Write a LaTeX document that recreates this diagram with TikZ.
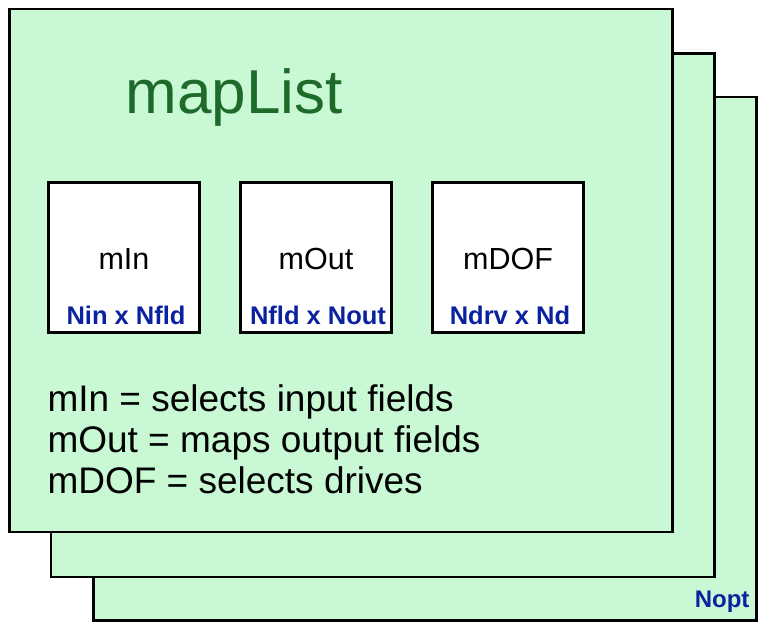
\documentclass[tikz,border=0pt]{standalone}
\usepackage{fontspec}
\setmainfont{Liberation Sans}
\definecolor{sheet}{HTML}{C8F9D4}
\definecolor{titlegreen}{HTML}{1D6A2A}
\definecolor{dimblue}{HTML}{0A22A0}
\begin{document}
\begin{tikzpicture}[x=1pt,y=-1pt,
  sheetframe/.style={draw=black,fill=sheet,line width=2.8pt},
  matbox/.style={draw=black,fill=white,line width=2.6pt,minimum width=151pt,minimum height=150pt,inner sep=0pt},
  boxname/.style={anchor=base,font=\fontsize{30.5}{34}\selectfont},
  dimlabel/.style={anchor=base,text=dimblue,font=\bfseries\fontsize{25.5}{28}\selectfont},
  bodytext/.style={anchor=base west,font=\fontsize{37}{41}\selectfont}]
\useasboundingbox (0,0) rectangle (758,622);
\draw[sheetframe] (93.5,97) rectangle (756.2,620.6);
\draw[sheetframe] (51,53.5) rectangle (714.5,577);
\draw[sheetframe] (9.5,9) rectangle (672.5,532);
\node[anchor=base,text=titlegreen,font=\fontsize{62}{70}\selectfont] (title) at (234,113) {mapList};
\node[matbox] (min) at (124,257.5) {};
\node[matbox] (mout) at (316,257.5) {};
\node[matbox] (mdof) at (508,257.5) {};
\node[boxname] (minname) at (124,269) {mIn};
\node[boxname] (moutname) at (316,269) {mOut};
\node[boxname] (mdofname) at (508,269) {mDOF};
\node[dimlabel] (mindim) at (126,324) {Nin x Nfld};
\node[dimlabel] (moutdim) at (318,324) {Nfld x Nout};
\node[dimlabel] (mdofdim) at (510,324) {Ndrv x Nd};
\node[bodytext] (l1) at (44,411) {mIn = selects input fields};
\node[bodytext] (l2) at (44,452) {mOut = maps output fields};
\node[bodytext] (l3) at (44,493) {mDOF = selects drives};
\node[anchor=base east,text=dimblue,font=\bfseries\fontsize{24}{28}\selectfont] (nopt) at (753,607) {Nopt};
\end{tikzpicture}
\end{document}
